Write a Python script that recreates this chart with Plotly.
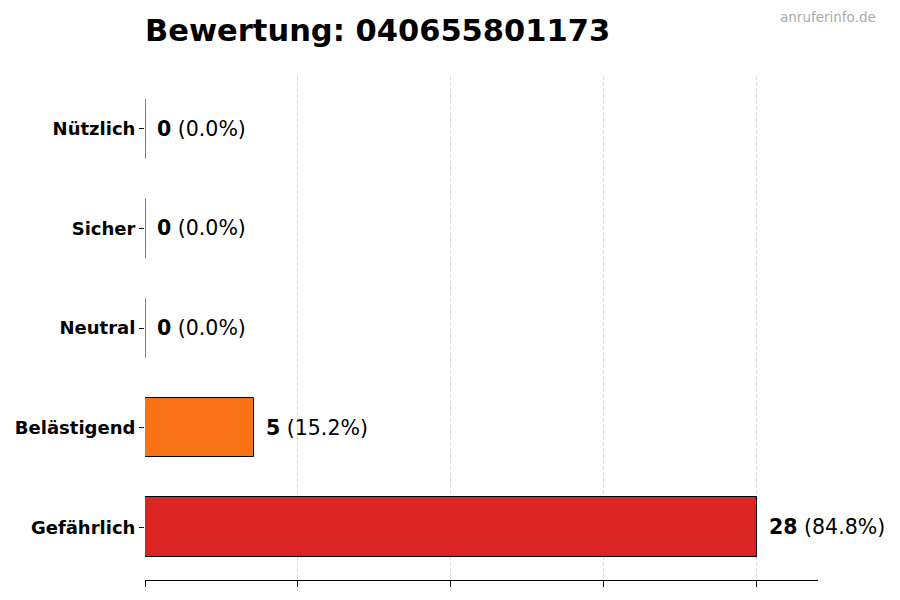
import plotly.graph_objects as go

categories = ["Gefährlich", "Belästigend", "Neutral", "Sicher", "Nützlich"]
counts = [28, 5, 0, 0, 0]
colors = ["#dc2626", "#f97316", "#9ca3af", "#22c55e", "#16a34a"]
title_text = "Bewertung: 040655801173"
watermark = "anruferinfo.de"
x_ticks = [0, 7, 14, 21, 28]

total = sum(counts)
FONT = "DejaVu Sans"
L, R, T, B = 145, 82, 76, 20
PH = 600 - T - B
PW = 900 - L - R

fig = go.Figure()
fig.add_trace(go.Bar(
    y=list(range(len(categories))),
    x=counts,
    orientation="h",
    width=0.6,
    marker=dict(color=colors, line=dict(color="black", width=1)),
    hoverinfo="skip",
))

# zero-value bars: matplotlib still draws their edge line
for i, v in enumerate(counts):
    if v == 0:
        fig.add_shape(type="line", xref="x", yref="y", x0=0, x1=0,
                      y0=i - 0.3, y1=i + 0.3,
                      line=dict(color="black", width=1))

for i, v in enumerate(counts):
    pct = v / total * 100 if total else 0
    fig.add_annotation(x=v, y=i, xref="x", yref="y",
                       text=f"<b>{v}</b> ({pct:.1f}%)",
                       showarrow=False, xanchor="left", yanchor="middle",
                       xshift=10, font=dict(family=FONT, size=20.5, color="black"))

fig.add_annotation(x=0, y=1 + (T - 30) / PH, xref="paper", yref="paper",
                   text=f"<b>{title_text}</b>", showarrow=False,
                   xanchor="left", yanchor="middle", xshift=-2,
                   font=dict(family=FONT, size=30.5, color="black"))
fig.add_annotation(x=(878 - L) / PW, y=1 + (T - 17) / PH, xref="paper", yref="paper",
                   text=watermark, showarrow=False,
                   xanchor="right", yanchor="middle",
                   font=dict(family=FONT, size=13.5, color="#aaaaaa"))

fig.update_layout(
    width=900, height=600,
    margin=dict(l=L, r=R, t=T, b=B),
    paper_bgcolor="white", plot_bgcolor="white",
    showlegend=False,
    bargap=0,
    font=dict(family=FONT),
)
fig.update_xaxes(
    range=[0, max(counts) * 1.1],
    tickvals=x_ticks, showticklabels=False,
    ticks="outside", ticklen=6, tickcolor="black", tickwidth=1,
    showline=True, linecolor="black", linewidth=1,
    showgrid=True, gridcolor="#dddddd", griddash="4px,2px", gridwidth=0.8,
    zeroline=False,
)
fig.update_yaxes(
    range=[-0.53, len(categories) - 1 + 0.53],
    tickvals=list(range(len(categories))),
    ticktext=[f"<b>{c}</b>" for c in categories],
    ticks="outside", ticklen=5, tickcolor="black", tickwidth=1,
    tickfont=dict(family=FONT, size=18, color="black"),
    showline=False, showgrid=False, zeroline=False,
)

fig.write_html("out.html", config={"displayModeBar": False},
               post_script="document.body.style.margin='0';")
